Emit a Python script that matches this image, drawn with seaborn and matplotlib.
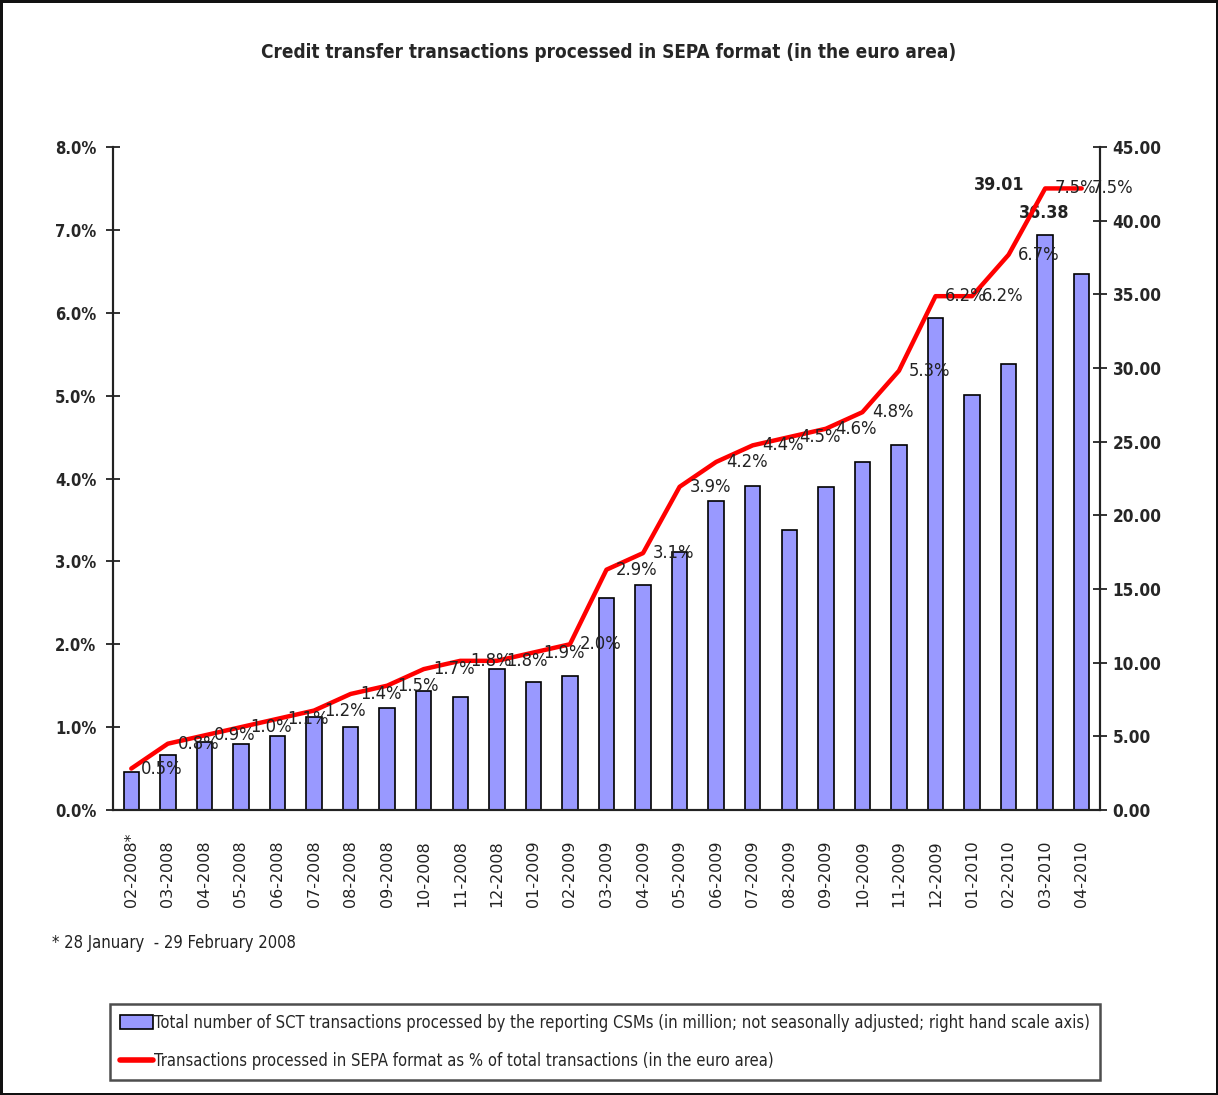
import numpy as np
import pandas as pd
import seaborn as sns
import matplotlib.pyplot as plt
from matplotlib import font_manager as fm
from matplotlib.ticker import FuncFormatter, FixedLocator
from matplotlib.patches import Patch
from matplotlib.lines import Line2D

# Data
months = ['02-2008*', '03-2008', '04-2008', '05-2008', '06-2008', '07-2008', '08-2008',
          '09-2008', '10-2008', '11-2008', '12-2008', '01-2009', '02-2009', '03-2009',
          '04-2009', '05-2009', '06-2009', '07-2009', '08-2009', '09-2009', '10-2009',
          '11-2009', '12-2009', '01-2010', '02-2010', '03-2010', '04-2010']
# total SCT transactions (million, right axis)
volumes = [2.6, 3.7, 4.6, 4.5, 5.0, 6.3, 5.6, 6.9, 8.1, 7.7, 9.6, 8.7, 9.1, 14.4,
           15.3, 17.5, 21.0, 22.0, 19.0, 21.9, 23.6, 24.8, 33.4, 28.2, 30.3, 39.01, 36.38]
# share processed in SEPA format (%, left axis)
sepa_pct = [0.5, 0.8, 0.9, 1.0, 1.1, 1.2, 1.4, 1.5, 1.7, 1.8, 1.8, 1.9, 2.0, 2.9,
            3.1, 3.9, 4.2, 4.4, 4.5, 4.6, 4.8, 5.3, 6.2, 6.2, 6.7, 7.5, 7.5]
left_ticks = [0, 1, 2, 3, 4, 5, 6, 7, 8]
right_ticks = [0, 5, 10, 15, 20, 25, 30, 35, 40, 45]

df = pd.DataFrame({'month': months, 'volume': volumes, 'pct': sepa_pct})
df['pos'] = np.arange(len(df))

sns.set_style('white')

# the original uses Arial Narrow; take a narrow face if there is one
fonts = fm.fontManager.ttflist
if any(f.name == 'Liberation Sans Narrow' for f in fonts):
    plt.rcParams['font.family'] = ['Liberation Sans Narrow', 'DejaVu Sans']
    k = 1.0
elif any(f.name == 'DejaVu Sans' and f.stretch == 'condensed' for f in fonts):
    plt.rcParams['font.family'] = ['DejaVu Sans']
    plt.rcParams['font.stretch'] = 'condensed'
    k = 0.85
else:
    plt.rcParams['font.family'] = ['Liberation Sans', 'DejaVu Sans']
    k = 0.82

fig = plt.figure(figsize=(12.18, 10.95), dpi=100)
fig.patch.set_edgecolor('#111111')
fig.patch.set_linewidth(2.5)
ax = fig.add_axes([113/1218, 1-810/1095, 987/1218, 663/1095])

# bars on the primary axes, but with their scale on the right
sns.barplot(data=df, x='month', y='volume', ax=ax, color='#9999FF', saturation=1,
            edgecolor='black', linewidth=1.2, width=0.42)

# line on the twin axes, with its scale on the left
ax2 = ax.twinx()
sns.lineplot(data=df, x='pos', y='pct', ax=ax2, color='red', linewidth=3.2)

ax.set_ylim(0, 45)
ax.yaxis.tick_right()
ax.set_yticks(right_ticks)
ax.yaxis.set_major_formatter(FuncFormatter(lambda v, p: f'{v:.2f}'))
ax.set_xlabel('')
ax.set_ylabel('')

ax2.set_ylim(0, 8)
ax2.yaxis.tick_left()
ax2.set_yticks(left_ticks)
ax2.yaxis.set_major_formatter(FuncFormatter(lambda v, p: f'{v:.1f}%'))
ax2.set_xlabel('')
ax2.set_ylabel('')
ax.set_xlim(-0.5, len(months) - 0.5)

for a in (ax, ax2):
    a.spines['top'].set_visible(False)
    for s in ('left', 'right', 'bottom'):
        a.spines[s].set_color('#222222')
        a.spines[s].set_linewidth(1.5)

ax.tick_params(axis='y', which='major', direction='inout', length=10, width=1.3,
               color='#222222', labelsize=14.5*k, pad=4)
ax2.tick_params(axis='y', which='major', direction='inout', length=10, width=1.3,
                color='#222222', labelsize=14*k, pad=7)
for lab in ax.get_yticklabels() + ax2.get_yticklabels():
    lab.set_fontweight('bold')

# x ticks: labels at category centres, tick marks at boundaries
ax.set_xticks(np.arange(len(months)))
ax.set_xticklabels(months, rotation=90, va='bottom', ha='center', fontsize=11.5,
                   family='DejaVu Sans', fontstretch='normal', color='#222222')
ax.tick_params(axis='x', which='major', length=0, pad=70)
ax.xaxis.set_minor_locator(FixedLocator(np.arange(-0.5, len(months), 1.0)))
ax.tick_params(axis='x', which='minor', direction='out', length=7, width=1.3, color='#222222')
ax2.tick_params(axis='x', which='both', length=0)

# percent data labels to the right of each point
for x, v in zip(df['pos'], df['pct']):
    ax2.annotate(f'{v:.1f}%', (x, v), xytext=(7, 0), textcoords='offset points',
                 ha='left', va='center', fontsize=15.5*k, color='#222222')

# volume labels for the last two bars
ax.annotate(f'{volumes[-2]:.2f}', (len(months) - 2, volumes[-2]), xytext=(-33, 36),
            textcoords='offset points', ha='center', va='center', fontsize=15*k,
            fontweight='bold', color='#222222')
ax.annotate(f'{volumes[-1]:.2f}', (len(months) - 1, volumes[-1]), xytext=(-27, 44),
            textcoords='offset points', ha='center', va='center', fontsize=15*k,
            fontweight='bold', color='#222222')

fig.text(0.5, 1 - 52/1095, 'Credit transfer transactions processed in SEPA format (in the euro area)',
         ha='center', va='center', fontsize=16*k, fontweight='bold')
fig.text(52/1218, 1 - 943/1095, '* 28 January  - 29 February 2008',
         ha='left', va='center', fontsize=14*k, color='#222222')

handles = [Patch(facecolor='#9999FF', edgecolor='black', linewidth=1.2),
           Line2D([0], [0], color='red', linewidth=4)]
labels = ['Total number of SCT transactions processed by the reporting CSMs '
          '(in million; not seasonally adjusted; right hand scale axis)',
          'Transactions processed in SEPA format as % of total transactions (in the euro area)']
leg = fig.legend(handles, labels, loc='center', bbox_to_anchor=(605/1218, 1 - 1042/1095),
                 fontsize=14*k, frameon=True, fancybox=False, edgecolor='#222222',
                 handlelength=2.0, handleheight=0.9, handletextpad=0.1,
                 labelspacing=1.25, borderpad=0.6)
leg.get_frame().set_linewidth(1.8)

fig.savefig('out.png', dpi=100)
